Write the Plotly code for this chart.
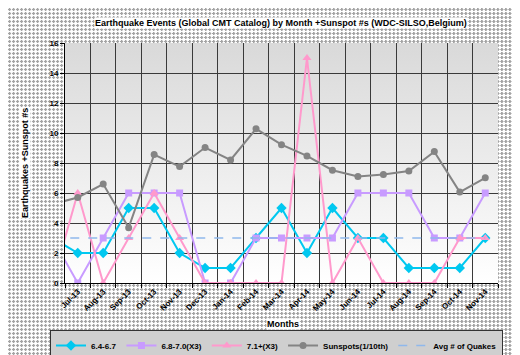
import base64
import plotly.graph_objects as go

# ---- data ----
months = ["Jun-13", "Jul-13", "Aug-13", "Sep-13", "Oct-13", "Nov-13", "Dec-13",
          "Jan-14", "Feb-14", "Mar-14", "Apr-14", "May-14", "Jun-14", "Jul-14",
          "Aug-14", "Sep-14", "Oct-14", "Nov-14"]
shown_months = months[1:]
q_64_67 = [3, 2, 2, 5, 5, 2, 1, 1, 3, 5, 2, 5, 3, 3, 1, 1, 1, 3]
q_68_70_x3 = [3, 0, 3, 6, 6, 6, 0, 0, 3, 3, 3, 3, 6, 6, 6, 3, 3, 6]
q_71p_x3 = [0, 6, 0, 3, 6, 3, 0, 0, 0, 0, 15, 0, 3, 0, 0, 0, 3, 3]
sunspots_10th = [5.25, 5.70, 6.60, 3.69, 8.56, 7.76, 9.03, 8.20, 10.28, 9.22,
                 8.47, 7.52, 7.10, 7.24, 7.46, 8.76, 6.06, 7.01]
avg_quakes = [3] * len(months)
y_ticks = [0, 2, 4, 6, 8, 10, 12, 14, 16]

# page body has an 8px margin -> figure drawn at (8, 8)
OFF = 8
W, H = 520 - OFF, 355 - OFF
ML, MT = 65 - OFF, 43 - OFF
PR, PB = 497.7 - OFF, 283 - OFF
MR, MB = W - PR, H - PB
PW, PH = PR - ML, PB - MT

# checkered paper background (svg pattern)
bg_svg = (
    f'<svg xmlns="http://www.w3.org/2000/svg" width="{W}" height="{H}" shape-rendering="crispEdges">'
    '<defs><pattern id="p" width="4" height="4" patternUnits="userSpaceOnUse">'
    '<rect width="4" height="4" fill="#ffffff"/>'
    '<rect x="1" y="0" width="1" height="1" fill="#a4a4a4"/>'
    '<rect x="0" y="1" width="3" height="1" fill="#a4a4a4"/>'
    '<rect x="1" y="2" width="1" height="1" fill="#a4a4a4"/>'
    '</pattern></defs>'
    f'<rect width="{W}" height="{H}" fill="url(#p)"/></svg>'
)
grad_svg = (
    '<svg xmlns="http://www.w3.org/2000/svg" width="100" height="100" preserveAspectRatio="none">'
    '<defs><linearGradient id="g" x1="0" y1="0" x2="0" y2="1">'
    '<stop offset="0" stop-color="#d9d9d9"/><stop offset="1" stop-color="#ffffff"/>'
    '</linearGradient></defs><rect width="100" height="100" fill="url(#g)"/></svg>'
)


def uri(s):
    return "data:image/svg+xml;base64," + base64.b64encode(s.encode()).decode()


fig = go.Figure()
fig.add_trace(go.Scatter(x=months, y=q_64_67, name="6.4-6.7", mode="lines+markers",
                         line=dict(color="#00c8f0", width=2),
                         marker=dict(symbol="diamond", size=8, color="#00c8f0")))
fig.add_trace(go.Scatter(x=months, y=q_68_70_x3, name="6.8-7.0(X3)", mode="lines+markers",
                         line=dict(color="#c89bff", width=2),
                         marker=dict(symbol="square", size=7, color="#c89bff")))
fig.add_trace(go.Scatter(x=months, y=q_71p_x3, name="7.1+(X3)", mode="lines+markers",
                         line=dict(color="#ff99cc", width=2),
                         marker=dict(symbol="triangle-up", size=8, color="#ff99cc")))
fig.add_trace(go.Scatter(x=months, y=sunspots_10th, name="Sunspots(1/10th)", mode="lines+markers",
                         line=dict(color="#848484", width=2),
                         marker=dict(symbol="circle", size=7, color="#848484")))
fig.add_trace(go.Scatter(x=months, y=avg_quakes, name="Avg # of Quakes", mode="lines",
                         line=dict(color="#8fb8ec", width=1.5, dash="dash")))

fig.update_layout(
    width=W, height=H,
    margin=dict(l=ML, r=MR, t=MT, b=MB, autoexpand=False),
    paper_bgcolor="#e2e2e2",
    plot_bgcolor="rgba(0,0,0,0)",
    font=dict(family="Liberation Sans, Arial", size=8, color="#000000"),
    showlegend=True,
    legend=dict(orientation="h", xref="paper", yref="paper",
                x=(50 - 65) / PW, xanchor="left", y=-(330 - 283) / PH, yanchor="top",
                bgcolor="#cfcfcf", bordercolor="#333333", borderwidth=1,
                font=dict(size=8, weight="bold"), itemwidth=30,
                tracegroupgap=0),
    images=[
        dict(source=uri(bg_svg), xref="paper", yref="paper",
             x=-ML / PW, y=1 + MT / PH, sizex=W / PW, sizey=H / PH,
             sizing="stretch", layer="below", xanchor="left", yanchor="top"),
        dict(source=uri(grad_svg), xref="paper", yref="paper",
             x=0, y=1, sizex=1, sizey=1, sizing="stretch", layer="below",
             xanchor="left", yanchor="top"),
    ],
    annotations=[
        dict(text="<b>Earthquake Events (Global CMT Catalog) by Month +Sunspot #s (WDC-SILSO,Belgium)</b>",
             xref="paper", yref="paper", x=0.498, y=1 + 20 / PH, xanchor="center", yanchor="middle",
             showarrow=False, bgcolor="#ffffff", font=dict(size=9), borderpad=0),
        dict(text="<b>Earthquakes +Sunspot #s</b>", textangle=-90,
             xref="paper", yref="paper", x=(25 - 65) / PW, y=0.5, xanchor="center", yanchor="middle",
             showarrow=False, bgcolor="#ffffff", font=dict(size=9), borderpad=0),
        dict(text="<b>Months</b>",
             xref="paper", yref="paper", x=(283 - 65) / PW, y=-(324 - 283) / PH,
             xanchor="center", yanchor="middle",
             showarrow=False, bgcolor="#ffffff", font=dict(size=9), borderpad=0),
    ],
)

fig.update_xaxes(type="category", categoryorder="array", categoryarray=months,
                 range=[0.5, len(months) - 0.5], tickson="boundaries",
                 tickmode="array", tickvals=shown_months, ticktext=shown_months,
                 showgrid=True, gridcolor="#3a3a3a", gridwidth=1,
                 ticks="outside", ticklen=4, tickcolor="#000000",
                 showline=True, linecolor="#000000", linewidth=1,
                 tickangle=-45, tickfont=dict(size=8, weight="bold"), zeroline=False)
fig.update_yaxes(range=[0, 16], tickmode="array", tickvals=y_ticks,
                 showgrid=True, gridcolor="#3a3a3a", gridwidth=1,
                 ticks="outside", ticklen=4, tickcolor="#000000",
                 showline=True, linecolor="#000000", linewidth=1,
                 tickfont=dict(size=8, weight="bold"), zeroline=False)

fig.write_html("out.html")
